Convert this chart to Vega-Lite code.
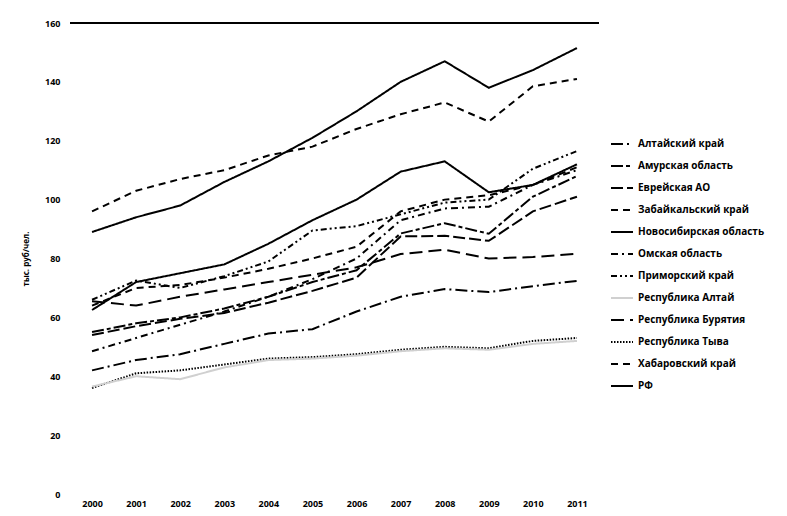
{
  "$schema": "https://vega.github.io/schema/vega-lite/v6.json",
  "width": 529,
  "height": 471,
  "autosize": "none",
  "padding": {"left": 70, "top": 23, "right": 188, "bottom": 22},
  "background": "white",
  "config": {
    "view": {"stroke": null},
    "font": "Open Sans",
    "axis": {"labelFont": "Open Sans", "labelFontWeight": "bold", "labelFontSize": 9, "labelColor": "black", "titleColor": "black"}
  },
  "data": {
    "values": [
      {"region": "РФ", "year": "2000", "value": 89}, {"region": "РФ", "year": "2001", "value": 94}, {"region": "РФ", "year": "2002", "value": 98}, {"region": "РФ", "year": "2003", "value": 106}, {"region": "РФ", "year": "2004", "value": 113}, {"region": "РФ", "year": "2005", "value": 121}, {"region": "РФ", "year": "2006", "value": 130}, {"region": "РФ", "year": "2007", "value": 140}, {"region": "РФ", "year": "2008", "value": 147}, {"region": "РФ", "year": "2009", "value": 138}, {"region": "РФ", "year": "2010", "value": 144}, {"region": "РФ", "year": "2011", "value": 151.5},
      {"region": "Хабаровский край", "year": "2000", "value": 96}, {"region": "Хабаровский край", "year": "2001", "value": 103}, {"region": "Хабаровский край", "year": "2002", "value": 107}, {"region": "Хабаровский край", "year": "2003", "value": 110}, {"region": "Хабаровский край", "year": "2004", "value": 115}, {"region": "Хабаровский край", "year": "2005", "value": 118}, {"region": "Хабаровский край", "year": "2006", "value": 124}, {"region": "Хабаровский край", "year": "2007", "value": 129}, {"region": "Хабаровский край", "year": "2008", "value": 133}, {"region": "Хабаровский край", "year": "2009", "value": 126.5}, {"region": "Хабаровский край", "year": "2010", "value": 138.5}, {"region": "Хабаровский край", "year": "2011", "value": 141},
      {"region": "Приморский край", "year": "2000", "value": 66}, {"region": "Приморский край", "year": "2001", "value": 72.5}, {"region": "Приморский край", "year": "2002", "value": 70}, {"region": "Приморский край", "year": "2003", "value": 74}, {"region": "Приморский край", "year": "2004", "value": 79}, {"region": "Приморский край", "year": "2005", "value": 89.5}, {"region": "Приморский край", "year": "2006", "value": 91}, {"region": "Приморский край", "year": "2007", "value": 95}, {"region": "Приморский край", "year": "2008", "value": 99}, {"region": "Приморский край", "year": "2009", "value": 100}, {"region": "Приморский край", "year": "2010", "value": 110.5}, {"region": "Приморский край", "year": "2011", "value": 116.5},
      {"region": "Новосибирская область", "year": "2000", "value": 62.5}, {"region": "Новосибирская область", "year": "2001", "value": 72}, {"region": "Новосибирская область", "year": "2002", "value": 75}, {"region": "Новосибирская область", "year": "2003", "value": 78}, {"region": "Новосибирская область", "year": "2004", "value": 85}, {"region": "Новосибирская область", "year": "2005", "value": 93}, {"region": "Новосибирская область", "year": "2006", "value": 100}, {"region": "Новосибирская область", "year": "2007", "value": 109.5}, {"region": "Новосибирская область", "year": "2008", "value": 113}, {"region": "Новосибирская область", "year": "2009", "value": 102.5}, {"region": "Новосибирская область", "year": "2010", "value": 105}, {"region": "Новосибирская область", "year": "2011", "value": 112},
      {"region": "Забайкальский край", "year": "2000", "value": 64}, {"region": "Забайкальский край", "year": "2001", "value": 70}, {"region": "Забайкальский край", "year": "2002", "value": 71}, {"region": "Забайкальский край", "year": "2003", "value": 73.5}, {"region": "Забайкальский край", "year": "2004", "value": 76.5}, {"region": "Забайкальский край", "year": "2005", "value": 80}, {"region": "Забайкальский край", "year": "2006", "value": 84}, {"region": "Забайкальский край", "year": "2007", "value": 96}, {"region": "Забайкальский край", "year": "2008", "value": 100}, {"region": "Забайкальский край", "year": "2009", "value": 101.5}, {"region": "Забайкальский край", "year": "2010", "value": 105}, {"region": "Забайкальский край", "year": "2011", "value": 111},
      {"region": "Амурская область", "year": "2000", "value": 55}, {"region": "Амурская область", "year": "2001", "value": 58}, {"region": "Амурская область", "year": "2002", "value": 60}, {"region": "Амурская область", "year": "2003", "value": 63}, {"region": "Амурская область", "year": "2004", "value": 67}, {"region": "Амурская область", "year": "2005", "value": 72}, {"region": "Амурская область", "year": "2006", "value": 76}, {"region": "Амурская область", "year": "2007", "value": 88.5}, {"region": "Амурская область", "year": "2008", "value": 92}, {"region": "Амурская область", "year": "2009", "value": 88.4}, {"region": "Амурская область", "year": "2010", "value": 101}, {"region": "Амурская область", "year": "2011", "value": 108},
      {"region": "Еврейская АО", "year": "2000", "value": 54}, {"region": "Еврейская АО", "year": "2001", "value": 57}, {"region": "Еврейская АО", "year": "2002", "value": 59.5}, {"region": "Еврейская АО", "year": "2003", "value": 61.5}, {"region": "Еврейская АО", "year": "2004", "value": 65}, {"region": "Еврейская АО", "year": "2005", "value": 69}, {"region": "Еврейская АО", "year": "2006", "value": 73.5}, {"region": "Еврейская АО", "year": "2007", "value": 87.5}, {"region": "Еврейская АО", "year": "2008", "value": 87.7}, {"region": "Еврейская АО", "year": "2009", "value": 86}, {"region": "Еврейская АО", "year": "2010", "value": 96}, {"region": "Еврейская АО", "year": "2011", "value": 101},
      {"region": "Омская область", "year": "2000", "value": 48.5}, {"region": "Омская область", "year": "2001", "value": 53}, {"region": "Омская область", "year": "2002", "value": 57.5}, {"region": "Омская область", "year": "2003", "value": 62}, {"region": "Омская область", "year": "2004", "value": 67}, {"region": "Омская область", "year": "2005", "value": 73}, {"region": "Омская область", "year": "2006", "value": 80}, {"region": "Омская область", "year": "2007", "value": 93}, {"region": "Омская область", "year": "2008", "value": 97}, {"region": "Омская область", "year": "2009", "value": 97.6}, {"region": "Омская область", "year": "2010", "value": 105}, {"region": "Омская область", "year": "2011", "value": 110},
      {"region": "Республика Бурятия", "year": "2000", "value": 65.5}, {"region": "Республика Бурятия", "year": "2001", "value": 64}, {"region": "Республика Бурятия", "year": "2002", "value": 67}, {"region": "Республика Бурятия", "year": "2003", "value": 69.5}, {"region": "Республика Бурятия", "year": "2004", "value": 72}, {"region": "Республика Бурятия", "year": "2005", "value": 74.5}, {"region": "Республика Бурятия", "year": "2006", "value": 77}, {"region": "Республика Бурятия", "year": "2007", "value": 81.5}, {"region": "Республика Бурятия", "year": "2008", "value": 83}, {"region": "Республика Бурятия", "year": "2009", "value": 80}, {"region": "Республика Бурятия", "year": "2010", "value": 80.5}, {"region": "Республика Бурятия", "year": "2011", "value": 81.6},
      {"region": "Алтайский край", "year": "2000", "value": 42}, {"region": "Алтайский край", "year": "2001", "value": 45.5}, {"region": "Алтайский край", "year": "2002", "value": 47.5}, {"region": "Алтайский край", "year": "2003", "value": 51}, {"region": "Алтайский край", "year": "2004", "value": 54.5}, {"region": "Алтайский край", "year": "2005", "value": 56}, {"region": "Алтайский край", "year": "2006", "value": 62}, {"region": "Алтайский край", "year": "2007", "value": 67}, {"region": "Алтайский край", "year": "2008", "value": 69.6}, {"region": "Алтайский край", "year": "2009", "value": 68.6}, {"region": "Алтайский край", "year": "2010", "value": 70.6}, {"region": "Алтайский край", "year": "2011", "value": 72.4},
      {"region": "Республика Тыва", "year": "2000", "value": 36}, {"region": "Республика Тыва", "year": "2001", "value": 41}, {"region": "Республика Тыва", "year": "2002", "value": 42}, {"region": "Республика Тыва", "year": "2003", "value": 44}, {"region": "Республика Тыва", "year": "2004", "value": 46}, {"region": "Республика Тыва", "year": "2005", "value": 46.5}, {"region": "Республика Тыва", "year": "2006", "value": 47.5}, {"region": "Республика Тыва", "year": "2007", "value": 49}, {"region": "Республика Тыва", "year": "2008", "value": 50}, {"region": "Республика Тыва", "year": "2009", "value": 49.5}, {"region": "Республика Тыва", "year": "2010", "value": 52}, {"region": "Республика Тыва", "year": "2011", "value": 53},
      {"region": "Республика Алтай", "year": "2000", "value": 36.5}, {"region": "Республика Алтай", "year": "2001", "value": 40}, {"region": "Республика Алтай", "year": "2002", "value": 39}, {"region": "Республика Алтай", "year": "2003", "value": 43}, {"region": "Республика Алтай", "year": "2004", "value": 45.5}, {"region": "Республика Алтай", "year": "2005", "value": 46}, {"region": "Республика Алтай", "year": "2006", "value": 47}, {"region": "Республика Алтай", "year": "2007", "value": 48.5}, {"region": "Республика Алтай", "year": "2008", "value": 49.5}, {"region": "Республика Алтай", "year": "2009", "value": 49}, {"region": "Республика Алтай", "year": "2010", "value": 51}, {"region": "Республика Алтай", "year": "2011", "value": 52}
    ]
  },
  "layer": [
    {
      "mark": {"type": "rule", "color": "black", "strokeWidth": 1},
      "encoding": {"y": {"datum": 160, "type": "quantitative"}}
    },
    {
      "mark": {"type": "line", "strokeCap": "butt"},
      "encoding": {
        "x": {
          "field": "year",
          "type": "ordinal",
          "scale": {"type": "point", "padding": 0.5},
          "axis": {"title": null, "domain": false, "ticks": false, "labelAngle": 0, "labelPadding": 5}
        },
        "y": {
          "field": "value",
          "type": "quantitative",
          "scale": {"domain": [0, 160]},
          "axis": {
            "values": [0, 20, 40, 60, 80, 100, 120, 140, 160],
            "grid": false, "domain": false, "ticks": false, "labelPadding": 10,
            "title": "тыс. руб/чел.", "titleFontSize": 8, "titleFontWeight": "bold", "titlePadding": 14
          }
        },
        "color": {
          "field": "region",
          "type": "nominal",
          "sort": null,
          "scale": {
            "domain": ["Алтайский край", "Амурская область", "Еврейская АО", "Забайкальский край", "Новосибирская область", "Омская область", "Приморский край", "Республика Алтай", "Республика Бурятия", "Республика Тыва", "Хабаровский край", "РФ"],
            "range": ["black", "black", "black", "black", "black", "black", "black", "#d0d0d0", "black", "black", "black", "black"]
          },
          "legend": {
            "title": null,
            "orient": "none",
            "legendX": 540,
            "legendY": 109,
            "symbolType": "stroke",
            "symbolSize": 484,
            "rowPadding": 5,
            "labelFont": "Open Sans",
            "labelFontWeight": "bold",
            "labelFontSize": 10,
            "labelColor": "black",
            "labelOffset": 4
          }
        },
        "strokeDash": {
          "field": "region",
          "type": "nominal",
          "sort": null,
          "scale": {
            "domain": ["Алтайский край", "Амурская область", "Еврейская АО", "Забайкальский край", "Новосибирская область", "Омская область", "Приморский край", "Республика Алтай", "Республика Бурятия", "Республика Тыва", "Хабаровский край", "РФ"],
            "range": [[12, 4, 2, 4], [12, 3, 4, 3], [12, 4], [7, 5], [1, 0], [7, 4, 2, 4], [6, 3, 2, 3, 2, 3], [1, 0], [13, 6], [1.5, 1.5], [7, 5], [1, 0]]
          }
        },
        "strokeWidth": {
          "field": "region",
          "type": "nominal",
          "sort": null,
          "scale": {
            "domain": ["Алтайский край", "Амурская область", "Еврейская АО", "Забайкальский край", "Новосибирская область", "Омская область", "Приморский край", "Республика Алтай", "Республика Бурятия", "Республика Тыва", "Хабаровский край", "РФ"],
            "range": [2, 2, 2, 2.2, 1.4, 2, 2, 1.2, 2.2, 1.6, 2, 2.4]
          }
        }
      }
    }
  ]
}
